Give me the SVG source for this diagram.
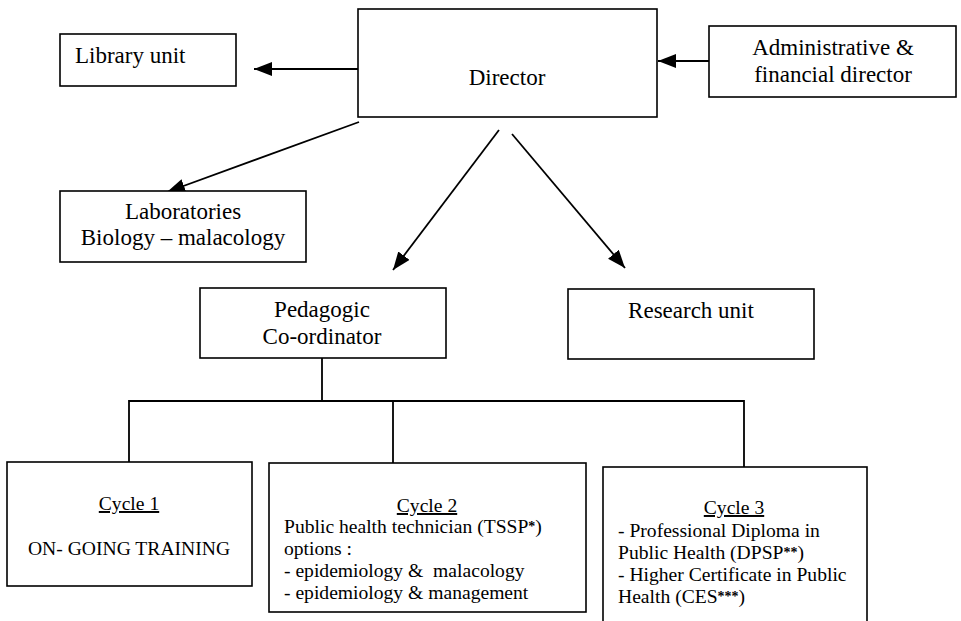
<svg xmlns="http://www.w3.org/2000/svg" width="961" height="621" viewBox="0 0 961 621">
<style>
.box{fill:#fff;stroke:#000;stroke-width:1.6}
.conn{fill:none;stroke:#000;stroke-width:1.8}
text{font-family:"Liberation Serif","Times New Roman",serif;fill:#000}
.big{font-size:23px}
.sm{font-size:19.6px}
.c{text-anchor:middle}
.u{text-decoration:underline}
.ast{font-size:14px;font-weight:bold}
</style>
<defs>
<marker id="ah" markerUnits="userSpaceOnUse" markerWidth="19" markerHeight="15" refX="18" refY="7" orient="auto">
<path d="M0,0 L18,7 L0,14 z" fill="#000"/>
</marker>
</defs>
<rect width="961" height="621" fill="#fff"/>
<g id="connectors">
<line class="conn" x1="358" y1="69" x2="254" y2="69" marker-end="url(#ah)"/>
<line class="conn" x1="709" y1="61" x2="658" y2="61" marker-end="url(#ah)"/>
<line class="conn" x1="359" y1="122" x2="167" y2="192" marker-end="url(#ah)"/>
<line class="conn" x1="499" y1="130" x2="393" y2="270" marker-end="url(#ah)"/>
<line class="conn" x1="512" y1="134" x2="625" y2="268" marker-end="url(#ah)"/>
<path class="conn" d="M322,358 V401 M129,462 V401 H744 V467 M393,401 V463"/>
</g>
<g id="library">
<rect class="box" x="60" y="34" width="176" height="52"/>
<text class="big" x="75" y="63">Library unit</text>
</g>
<g id="director">
<rect class="box" x="358" y="9" width="299" height="108"/>
<text class="big c" x="507" y="85">Director</text>
</g>
<g id="admin">
<rect class="box" x="709" y="26" width="247" height="71"/>
<text class="big c" x="833" y="55">Administrative &amp;</text>
<text class="big c" x="833" y="82">financial director</text>
</g>
<g id="labs">
<rect class="box" x="60" y="191" width="246" height="71"/>
<text class="big c" x="183" y="219">Laboratories</text>
<text class="big c" x="183" y="245">Biology – malacology</text>
</g>
<g id="pedagogic">
<rect class="box" x="200" y="288" width="246" height="70"/>
<text class="big c" x="322" y="317">Pedagogic</text>
<text class="big c" x="322" y="344">Co-ordinator</text>
</g>
<g id="research">
<rect class="box" x="568" y="289" width="246" height="70"/>
<text class="big c" x="691" y="318">Research unit</text>
</g>
<g id="cycle1">
<rect class="box" x="7" y="462" width="245" height="124"/>
<text class="sm c u" x="129" y="510">Cycle 1</text>
<text class="sm c" x="129" y="555">ON- GOING TRAINING</text>
</g>
<g id="cycle2">
<rect class="box" x="269" y="463" width="317" height="149"/>
<text class="sm c u" x="427" y="512">Cycle 2</text>
<text class="sm" x="284" y="533">Public health technician (TSSP<tspan class="ast" dy="-2">*</tspan><tspan dy="2">)</tspan></text>
<text class="sm" x="284" y="555">options :</text>
<text class="sm" x="284" y="577" xml:space="preserve">- epidemiology &amp;  malacology</text>
<text class="sm" x="284" y="599">- epidemiology &amp; management</text>
</g>
<g id="cycle3">
<rect class="box" x="603" y="467" width="264" height="170"/>
<text class="sm c u" x="734" y="514">Cycle 3</text>
<text class="sm" x="618" y="537">- Professional Diploma in</text>
<text class="sm" x="618" y="559">Public Health (DPSP<tspan class="ast" dy="-2">**</tspan><tspan dy="2">)</tspan></text>
<text class="sm" x="618" y="581">- Higher Certificate in Public</text>
<text class="sm" x="618" y="603">Health (CES<tspan class="ast" dy="-2">***</tspan><tspan dy="2">)</tspan></text>
</g>
</svg>
